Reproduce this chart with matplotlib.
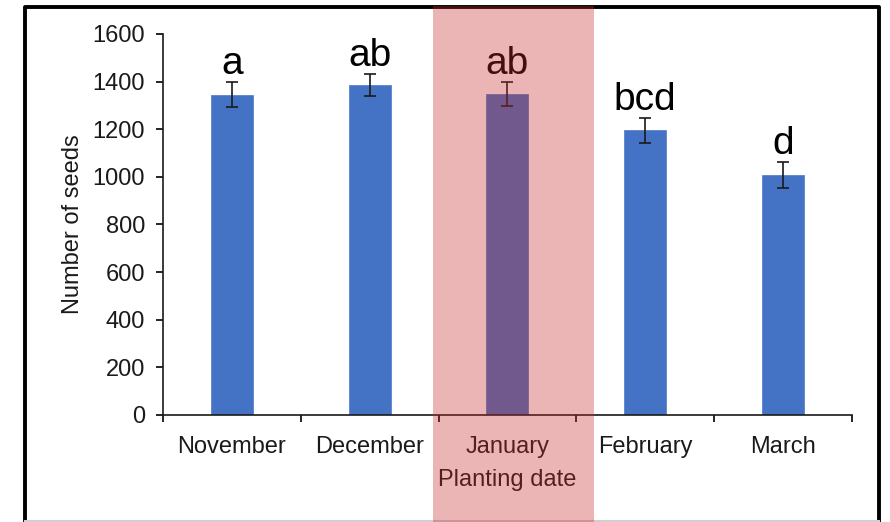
import matplotlib.pyplot as plt
from matplotlib.patches import Rectangle
from matplotlib.lines import Line2D

months = ['November', 'December', 'January', 'February', 'March']
seeds = [1345, 1385, 1348, 1195, 1008]
seeds_err = [53, 47, 52, 53, 55]
letters = ['a', 'ab', 'ab', 'bcd', 'd']

plt.rcParams['font.family'] = ['Liberation Sans', 'DejaVu Sans']

fig = plt.figure(figsize=(8.9, 5.22), dpi=100)
ax = fig.add_axes([0.1831, 0.2050, 0.9573 - 0.1831, 0.9349 - 0.2050])

x = list(range(len(months)))
ax.bar(x, seeds, width=0.305, color='#4472C4', edgecolor='#5a82cc', linewidth=0.6,
       yerr=seeds_err, capsize=4,
       error_kw=dict(ecolor='#1a1a1a', elinewidth=1.2, capthick=1.2))

for xi, m, e, lab in zip(x, seeds, seeds_err, letters):
    ax.annotate(lab, (xi, m + e), xytext=(0, 0), textcoords='offset points',
                ha='center', va='bottom', fontsize=28, color='black')

ax.set_xlim(-0.5, 4.5)
ax.set_ylim(0, 1600)
ax.set_yticks(range(0, 1601, 200))
ax.set_xticks(x)
ax.set_xticklabels(months)
ax.set_xticks([0.5 + i for i in range(-1, 5)], minor=True)
ax.tick_params(axis='x', which='major', length=0, pad=15, labelsize=17, labelcolor='#1a1a1a')
ax.tick_params(axis='x', which='minor', length=5, width=1.2, direction='out')
ax.tick_params(axis='y', length=5, width=1.2, pad=8, labelsize=17, labelcolor='#1a1a1a')

for side in ['top', 'right']:
    ax.spines[side].set_visible(False)
for side in ['left', 'bottom']:
    ax.spines[side].set_linewidth(1.2)
    ax.spines[side].set_color('#1a1a1a')

ax.set_ylabel('Number of seeds', fontsize=17, labelpad=6, color='#1a1a1a')
ax.set_xlabel('Planting date', fontsize=17, labelpad=8, color='#1a1a1a')

# frame around the whole figure
W, H = 890, 522
fig.lines.append(Line2D([25 / W, 25 / W, 879 / W, 879 / W], [0, 1 - 7 / H, 1 - 7 / H, 0],
                        transform=fig.transFigure, color='black', lw=2.8, zorder=3))
fig.lines.append(Line2D([25 / W, 879 / W], [1.5 / H, 1.5 / H],
                        transform=fig.transFigure, color='#cfcfcf', lw=1.5, zorder=3))

# red band over the January column
fig.patches.append(Rectangle((433 / W, 0), (594 - 433) / W, 1 - 6 / H,
                             transform=fig.transFigure, facecolor=(0.78, 0.17, 0.17),
                             alpha=0.35, edgecolor='none', zorder=10))

fig.savefig('out.png', dpi=100)
